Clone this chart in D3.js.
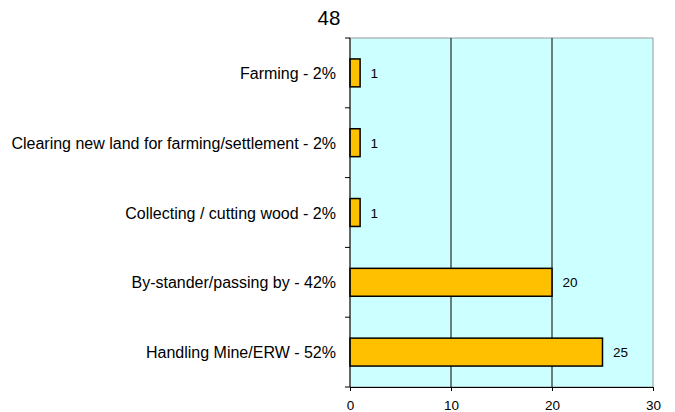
<!DOCTYPE html>
<html><head><meta charset="utf-8">
<script src="https://cdn.jsdelivr.net/npm/d3@7"></script>
<style>body{margin:0;background:#fff;} text{font-family:"Liberation Sans",Arial,sans-serif;}</style>
</head><body><svg id="c" width="675" height="412"></svg>
<script>
const categories = ["Farming - 2%","Clearing new land for farming/settlement - 2%","Collecting / cutting wood - 2%","By-stander/passing by - 42%","Handling Mine/ERW - 52%"];
const values = [1,1,1,20,25];
const xTicks = [0,10,20,30];
const title = "48";

const svg = d3.select("#c");
const m = {l:350, r:653, t:38, b:387};
const x = d3.scaleLinear().domain([0,30]).range([m.l,m.r]);
const y = d3.scaleBand().domain(categories).range([m.t,m.b]).paddingInner(0.6).paddingOuter(0.3);
const yb = d3.scaleBand().domain(categories).range([m.t,m.b]);

svg.append("rect").attr("x",m.l).attr("y",m.t).attr("width",m.r-m.l).attr("height",m.b-m.t).attr("fill","#CCFFFF").attr("stroke","#999").attr("stroke-width",1);

svg.selectAll(".grid").data(xTicks.slice(1,-1)).enter().append("line")
  .attr("x1",d=>x(d)).attr("x2",d=>x(d)).attr("y1",m.t).attr("y2",m.b).attr("stroke","#000").attr("stroke-width",1);

svg.selectAll(".bar").data(values).enter().append("rect")
  .attr("x",x(0)).attr("y",(d,i)=>y(categories[i])).attr("width",d=>x(d)-x(0)).attr("height",y.bandwidth())
  .attr("fill","#FFC000").attr("stroke","#000").attr("stroke-width",1.5);

svg.selectAll(".vl").data(values).enter().append("text")
  .attr("x",d=>x(d)+10.5).attr("y",(d,i)=>y(categories[i])+y.bandwidth()/2+5)
  .attr("font-size",13.5).text(d=>d);

// left axis
svg.append("line").attr("x1",m.l).attr("x2",m.l).attr("y1",m.t).attr("y2",m.b).attr("stroke","#000");
const bounds = categories.map(c=>yb(c)).concat([m.b]);
svg.selectAll(".lt").data(bounds).enter().append("line")
  .attr("x1",m.l-5).attr("x2",m.l).attr("y1",d=>d).attr("y2",d=>d).attr("stroke","#000");
svg.selectAll(".cl").data(categories).enter().append("text")
  .attr("x",m.l-14).attr("y",d=>yb(d)+yb.bandwidth()/2+6).attr("text-anchor","end")
  .attr("font-size",16).text(d=>d);

// bottom axis
const xa = svg.append("g").attr("transform",`translate(0,${m.b})`)
  .call(d3.axisBottom(x).tickValues(xTicks).tickSize(4).tickSizeOuter(0));
xa.select(".domain").attr("stroke","#000");
xa.selectAll("text").attr("font-size",13.5).attr("font-family","Liberation Sans, Arial, sans-serif").attr("fill","#000").attr("y",0).attr("dy",0).attr("transform","translate(0,23)");

svg.append("text").attr("x",329).attr("y",25).attr("text-anchor","middle").attr("font-size",20.5).text(title);
</script></body></html>
